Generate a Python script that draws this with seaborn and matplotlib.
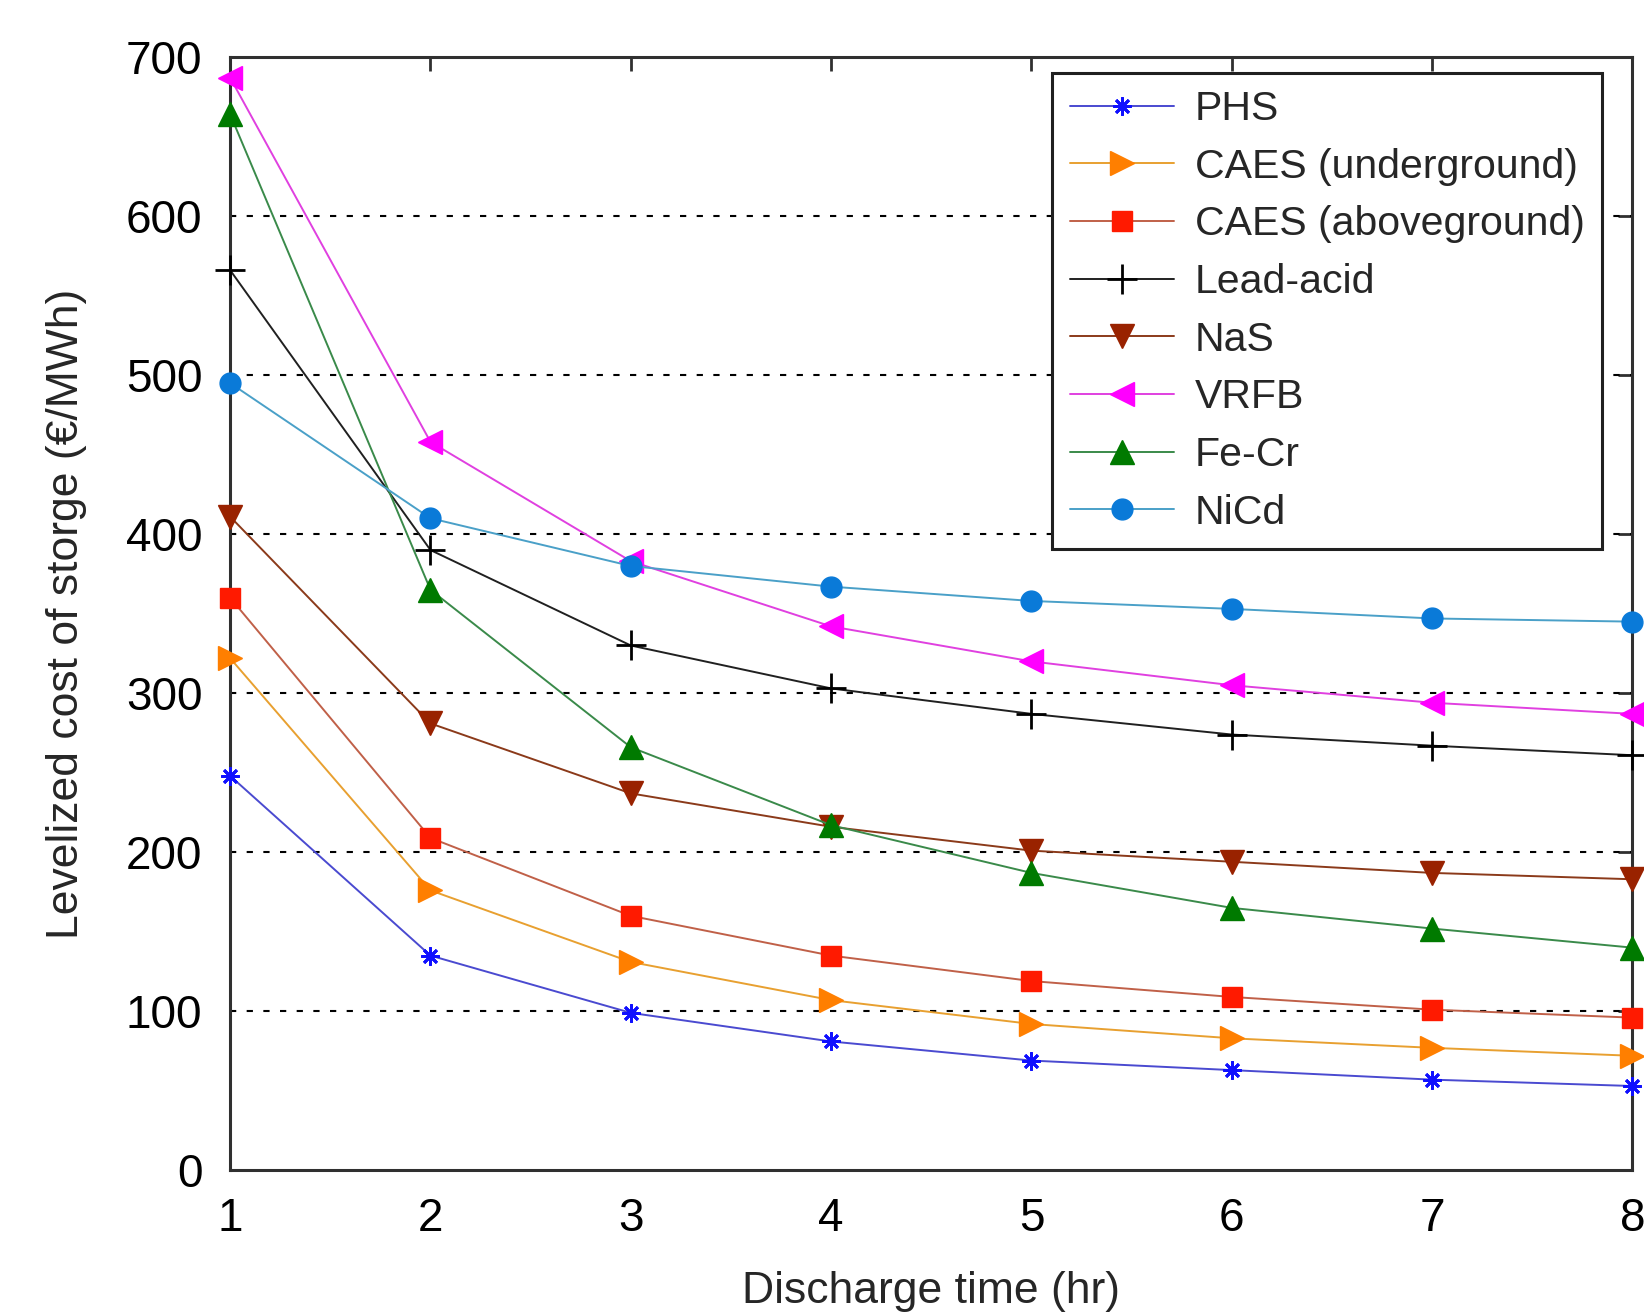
import numpy as np
import pandas as pd
import seaborn as sns
from matplotlib import pyplot as plt

hours = [1, 2, 3, 4, 5, 6, 7, 8]

phs = [248, 135, 99, 81, 69, 63, 57, 53]
caes_under = [322, 176, 131, 107, 92, 83, 77, 72]
caes_above = [360, 209, 160, 135, 119, 109, 101, 96]
lead_acid = [566, 390, 330, 303, 287, 274, 267, 261]
nas = [411, 281, 237, 216, 201, 194, 187, 183]
vrfb = [687, 458, 383, 342, 320, 305, 294, 287]
fe_cr = [664, 365, 266, 217, 187, 165, 152, 140]
nicd = [495, 410, 380, 367, 358, 353, 347, 345]

names = ["PHS", "CAES (underground)", "CAES (aboveground)", "Lead-acid",
         "NaS", "VRFB", "Fe-Cr", "NiCd"]
values = [phs, caes_under, caes_above, lead_acid, nas, vrfb, fe_cr, nicd]

# line colour, marker face colour, marker, marker size
styles = [
    ("#4a4ad0", "#1010ff", (8, 2, 0), 13),
    ("#e8a030", "#ff7f00", ">", 17),
    ("#c06048", "#ff1a00", "s", 15),
    ("#202020", "#000000", "+", 22),
    ("#8b3a1a", "#992200", "v", 17),
    ("#e040e0", "#ff00ff", "<", 17),
    ("#3a8a4a", "#007a00", "^", 17),
    ("#4aa0c8", "#0a7ad8", "o", 15),
]

df = pd.DataFrame({"hours": hours})
for name, vals in zip(names, values):
    df[name] = vals

sns.set_style("white")
plt.rcParams["font.family"] = ["Liberation Sans", "DejaVu Sans"]

fig = plt.figure(figsize=(16.44, 13.12), dpi=100)
ax = fig.add_axes([0.140, 0.108, 0.853, 0.8485])

for name, (lc, mc, mk, ms) in zip(names, styles):
    thin = mk == "+" or isinstance(mk, tuple)
    sns.lineplot(data=df, x="hours", y=name, ax=ax, color=lc, linewidth=1.4,
                 marker=mk, markersize=ms, markerfacecolor=mc,
                 markeredgecolor=mc, markeredgewidth=2.0 if thin else 1.0,
                 label=name, clip_on=False, zorder=3)

ax.set_xlim(1, 8)
ax.set_ylim(0, 700)
ax.set_xticks(hours)
ax.set_yticks(range(0, 701, 100))

for y in range(100, 700, 100):
    ax.axhline(y, color="black", linestyle=(0, (3, 5)), linewidth=1.5, zorder=1)

for s in ax.spines.values():
    s.set_color("#303030")
    s.set_linewidth(2.2)

ax.tick_params(direction="in", length=10, width=2, top=True, right=True,
               labelsize=33, colors="#303030", labelcolor="black")
ax.tick_params(axis="y", pad=20)
ax.tick_params(axis="x", pad=19)

ax.set_xlabel("Discharge time (hr)", fontsize=32, labelpad=22)
ax.set_ylabel("Levelized cost of storge (€/MWh)", fontsize=32, labelpad=28)

leg = ax.legend(loc="upper right", bbox_to_anchor=(0.978, 0.986), fontsize=29.5,
                frameon=True, fancybox=False, framealpha=1, handlelength=2.55,
                handletextpad=0.5, labelspacing=0.48, borderpad=0.42,
                borderaxespad=0)
leg.get_frame().set_edgecolor("#202020")
leg.get_frame().set_linewidth(2.2)

fig.savefig("out.png", dpi=100)
